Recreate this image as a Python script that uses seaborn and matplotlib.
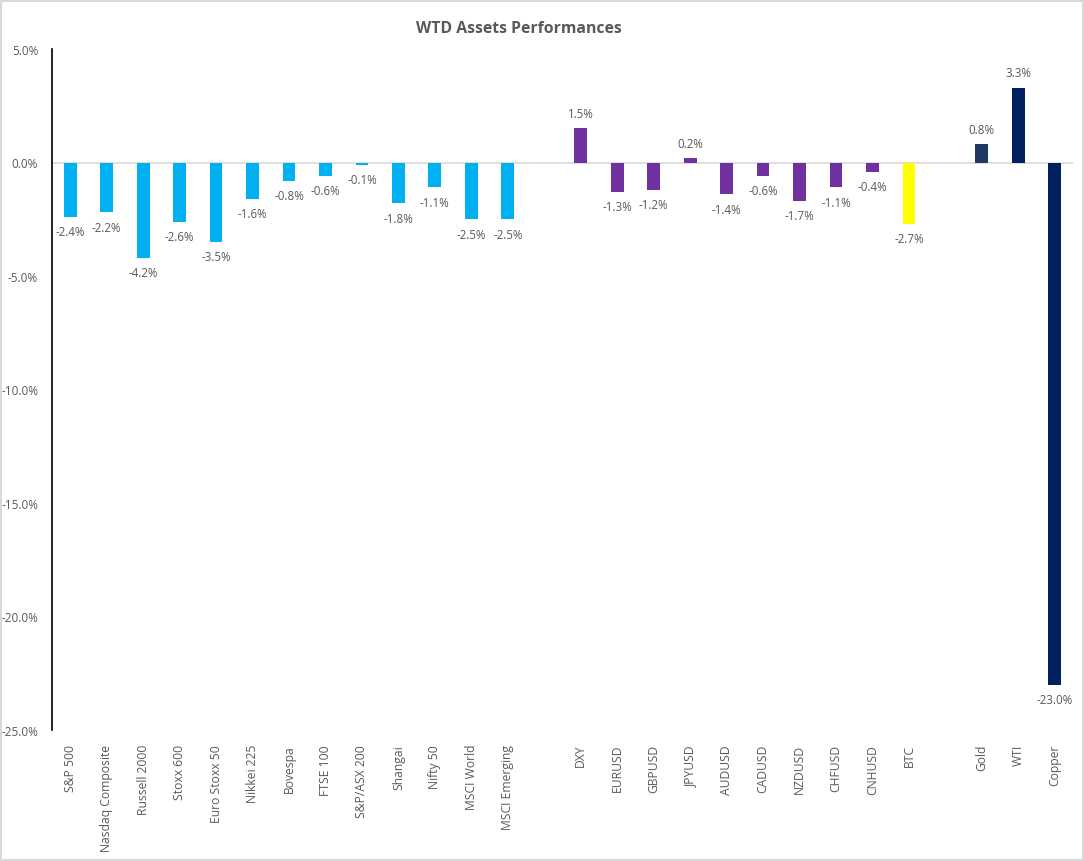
import matplotlib
matplotlib.use("Agg")
import matplotlib.pyplot as plt
import matplotlib.patches as mpatches
from matplotlib.ticker import FuncFormatter
import seaborn as sns
import pandas as pd
import numpy as np

equities = ["S&P 500", "Nasdaq Composite", "Russell 2000", "Stoxx 600", "Euro Stoxx 50",
            "Nikkei 225", "Bovespa", "FTSE 100", "S&P/ASX 200", "Shangai", "Nifty 50",
            "MSCI World", "MSCI Emerging"]
equity_vals = [-2.4, -2.2, -4.2, -2.6, -3.5, -1.6, -0.8, -0.6, -0.1, -1.8, -1.1, -2.5, -2.5]

fx = ["DXY", "EURUSD", "GBPUSD", "JPYUSD", "AUDUSD", "CADUSD", "NZDUSD", "CHFUSD", "CNHUSD"]
fx_vals = [1.5, -1.3, -1.2, 0.2, -1.4, -0.6, -1.7, -1.1, -0.4]

crypto = ["BTC"]
crypto_vals = [-2.7]

commod = ["Gold", "WTI", "Copper"]
commod_vals = [0.8, 3.3, -23.0]
commod_groups = ["Gold", "Commodity", "Commodity"]

gap1, gap2 = " ", "  "
order = equities + [gap1] + fx + crypto + [gap2] + commod

df = pd.DataFrame({
    "asset": equities + fx + crypto + commod,
    "value": equity_vals + fx_vals + crypto_vals + commod_vals,
    "group": ["Equity"] * len(equities) + ["FX"] * len(fx) + ["Crypto"] * len(crypto) + commod_groups,
})

palette = {"Equity": "#00B0F0", "FX": "#7030A0", "Crypto": "#FFFF00",
           "Gold": "#1F3864", "Commodity": "#002060"}

plt.rcParams["font.family"] = ["Open Sans", "DejaVu Sans"]
fig = plt.figure(figsize=(10.84, 8.62), dpi=100)
ax = fig.add_axes([52 / 1084, 1 - 731 / 862, (1073 - 52) / 1084, (731 - 50) / 862])

sns.barplot(data=df, x="asset", y="value", hue="group", order=order, palette=palette,
            dodge=False, width=0.35, legend=False, ax=ax, saturation=1)

for cont in ax.containers:
    labels = [f"{b.get_height():.1f}%" for b in cont]
    ax.bar_label(cont, labels=labels, padding=6, fontsize=8.3, color="#595959")

ax.set_ylim(-25, 5)
ax.set_yticks(np.arange(-25, 5.1, 5))
ax.yaxis.set_major_formatter(FuncFormatter(lambda v, p: f"{v:.1f}%"))
ax.axhline(0, color="#D9D9D9", lw=1.2, zorder=0)
ax.set_xlim(-0.5, len(order) - 0.5)

for s in ["top", "right", "bottom"]:
    ax.spines[s].set_visible(False)
ax.spines["left"].set_color("black")
ax.spines["left"].set_linewidth(1.2)

ax.tick_params(axis="y", length=0, labelsize=8.5, labelcolor="#595959", pad=10)
ax.tick_params(axis="x", length=0, labelsize=8.7, labelcolor="#595959", rotation=90, pad=10)
ax.set_xlabel("")
ax.set_ylabel("")

fig.text(519 / 1084, 1 - 29 / 862, "WTD Assets Performances", ha="center", va="center",
         fontsize=11.3, fontweight="bold", color="#595959")

fig.patches.append(mpatches.Rectangle((0.001, 0.001), 0.998, 0.997, transform=fig.transFigure,
                                      fill=False, edgecolor="#D9D9D9", lw=1.5))

fig.savefig("out.png", dpi=100)
